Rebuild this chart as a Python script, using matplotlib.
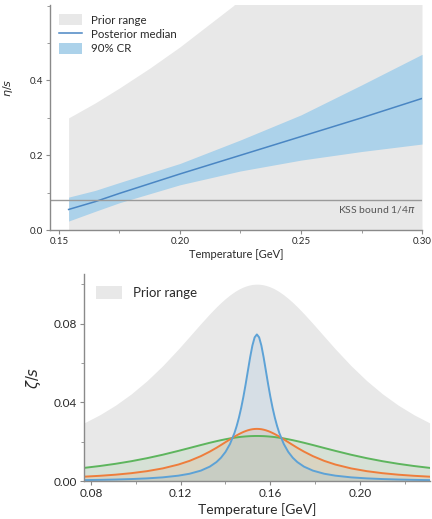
import numpy as np
import matplotlib

matplotlib.use("Agg")
import matplotlib.pyplot as plt
from matplotlib.patches import Patch
from matplotlib.lines import Line2D
from matplotlib.ticker import MultipleLocator

plt.rcParams["font.family"] = ["Lato", "DejaVu Sans"]

# --- eta/s panel ---
prior_T = [0.154, 0.165, 0.175, 0.1875, 0.200, 0.210, 0.222, 0.235, 0.300]
prior_hi = [0.300, 0.340, 0.380, 0.433, 0.490, 0.540, 0.600, 0.680, 1.050]

post_T = [0.154, 0.165, 0.175, 0.200, 0.225, 0.250, 0.275, 0.300]
post_med = [0.055, 0.076, 0.098, 0.150, 0.200, 0.250, 0.300, 0.352]
post_lo = [0.024, 0.050, 0.073, 0.121, 0.158, 0.187, 0.210, 0.230]
post_hi = [0.088, 0.106, 0.127, 0.178, 0.241, 0.308, 0.388, 0.470]

kss = 1 / (4 * np.pi)

# --- zeta/s panel ---
zeta_T = [0.077, 0.084, 0.091, 0.098, 0.105, 0.112, 0.119, 0.124, 0.129, 0.133,
          0.136, 0.138, 0.140, 0.142, 0.144, 0.145, 0.146, 0.147, 0.148, 0.149,
          0.150, 0.151, 0.152, 0.153, 0.154, 0.155, 0.156, 0.157, 0.158, 0.159,
          0.160, 0.161, 0.162, 0.163, 0.164, 0.166, 0.168, 0.170, 0.172, 0.175,
          0.179, 0.184, 0.189, 0.196, 0.203, 0.210, 0.217, 0.224, 0.231]
zeta_prior = [0.02966, 0.03378, 0.03864, 0.04436, 0.05101, 0.05863, 0.06711, 0.07353,
              0.08000, 0.08500, 0.08853, 0.09071, 0.09273, 0.09455, 0.09615, 0.09686,
              0.09750, 0.09808, 0.09858, 0.09901, 0.09936, 0.09964, 0.09984, 0.09996,
              0.10000, 0.09996, 0.09984, 0.09964, 0.09936, 0.09901, 0.09858, 0.09808,
              0.09750, 0.09686, 0.09615, 0.09455, 0.09273, 0.09071, 0.08853, 0.08500,
              0.08000, 0.07353, 0.06711, 0.05863, 0.05101, 0.04436, 0.03864, 0.03378,
              0.02966]
zeta_blue = [0.00061, 0.00074, 0.00091, 0.00115, 0.00149, 0.00201, 0.00287, 0.00385,
             0.00542, 0.00745, 0.00979, 0.01197, 0.01490, 0.01891, 0.02450, 0.02808,
             0.03231, 0.03725, 0.04295, 0.04933, 0.05616, 0.06294, 0.06888, 0.07301,
             0.07450, 0.07301, 0.06888, 0.06294, 0.05616, 0.04933, 0.04295, 0.03725,
             0.03231, 0.02808, 0.02450, 0.01891, 0.01490, 0.01197, 0.00979, 0.00745,
             0.00542, 0.00385, 0.00287, 0.00201, 0.00149, 0.00115, 0.00091, 0.00074,
             0.00061]
zeta_orange = [0.00236, 0.00280, 0.00337, 0.00413, 0.00515, 0.00655, 0.00851, 0.01038,
               0.01276, 0.01507, 0.01702, 0.01842, 0.01985, 0.02128, 0.02266, 0.02332,
               0.02394, 0.02451, 0.02504, 0.02549, 0.02588, 0.02619, 0.02642, 0.02655,
               0.02660, 0.02655, 0.02642, 0.02619, 0.02588, 0.02549, 0.02504, 0.02451,
               0.02394, 0.02332, 0.02266, 0.02128, 0.01985, 0.01842, 0.01702, 0.01507,
               0.01276, 0.01038, 0.00851, 0.00655, 0.00515, 0.00413, 0.00337, 0.00280,
               0.00236]
zeta_green = [0.00682, 0.00777, 0.00889, 0.01020, 0.01173, 0.01348, 0.01544, 0.01691,
              0.01840, 0.01955, 0.02036, 0.02086, 0.02133, 0.02175, 0.02212, 0.02228,
              0.02243, 0.02256, 0.02267, 0.02277, 0.02285, 0.02292, 0.02296, 0.02299,
              0.02300, 0.02299, 0.02296, 0.02292, 0.02285, 0.02277, 0.02267, 0.02256,
              0.02243, 0.02228, 0.02212, 0.02175, 0.02133, 0.02086, 0.02036, 0.01955,
              0.01840, 0.01691, 0.01544, 0.01348, 0.01173, 0.01020, 0.00889, 0.00777,
              0.00682]

GRAY = "#e8e8e8"
AXC = "#8a8a8a"
TXT = "#2a2a2a"


def style_axes(ax, fs):
    for s in ("top", "right"):
        ax.spines[s].set_visible(False)
    for s in ("left", "bottom"):
        ax.spines[s].set_color(AXC)
        ax.spines[s].set_linewidth(1.0)
    ax.tick_params(which="major", length=3, width=0.8, color=AXC,
                   labelsize=fs, labelcolor=TXT, pad=2)
    ax.tick_params(which="minor", length=2, width=0.6, color=AXC)


fig = plt.figure(figsize=(4.32, 5.19), dpi=100)

# top panel
ax1 = fig.add_axes([0.1157, 0.5568, 0.8612, 0.4336])
ax1.fill_between(prior_T, 0, prior_hi, color=GRAY, lw=0)
ax1.fill_between(post_T, post_lo, post_hi, color="#acd2ea", lw=0)
ax1.plot(post_T, post_med, color="#4a86c3", lw=1.1)
ax1.axhline(kss, color="#9a9a9a", lw=1.0)
ax1.text(0.2975, 0.0555, "KSS bound 1/4$\\pi$", ha="right", va="center",
         fontsize=7.5, color="#555555")
ax1.set_xlim(0.1463, 0.30)
ax1.set_ylim(0, 0.602)
ax1.set_xticks([0.15, 0.20, 0.25, 0.30])
ax1.set_xticklabels(["0.15", "0.20", "0.25", "0.30"])
ax1.set_yticks([0.0, 0.2, 0.4])
ax1.set_yticklabels(["0.0", "0.2", "0.4"])
ax1.xaxis.set_minor_locator(MultipleLocator(0.025))
ax1.yaxis.set_minor_locator(MultipleLocator(0.1))
style_axes(ax1, 7)
ax1.set_xlabel("Temperature [GeV]", fontsize=8, color=TXT, labelpad=2)
ax1.set_ylabel("$\\eta/s$", fontsize=8, color=TXT)
ax1.yaxis.set_label_coords(-0.095, 0.63)
handles = [Patch(color=GRAY, lw=0), Line2D([], [], color="#4a86c3", lw=1.1),
           Patch(color="#acd2ea", lw=0)]
ax1.legend(handles, ["Prior range", "Posterior median", "90% CR"],
           loc="upper left", bbox_to_anchor=(0.0, 1.0), frameon=False,
           fontsize=8.3, handlelength=2.0, handleheight=1.1,
           labelspacing=0.25, handletextpad=0.8, borderaxespad=0.4,
           labelcolor=TXT)

# bottom panel
ax2 = fig.add_axes([0.1944, 0.0726, 0.801, 0.3989])
ax2.fill_between(zeta_T, 0, zeta_prior, color=GRAY, lw=0)
curves = [(zeta_green, "#5db55d"), (zeta_orange, "#ee7d3b"), (zeta_blue, "#5da2d6")]
for vals, col in curves:
    ax2.fill_between(zeta_T, 0, vals, color=col, alpha=0.13, lw=0)
for vals, col in curves:
    ax2.plot(zeta_T, vals, color=col, lw=1.4)
ax2.set_xlim(0.0769, 0.2312)
ax2.set_ylim(0, 0.105)
ax2.set_xticks([0.08, 0.12, 0.16, 0.20])
ax2.set_xticklabels(["0.08", "0.12", "0.16", "0.20"])
ax2.set_yticks([0.0, 0.04, 0.08])
ax2.set_yticklabels(["0.00", "0.04", "0.08"])
ax2.xaxis.set_minor_locator(MultipleLocator(0.02))
ax2.yaxis.set_minor_locator(MultipleLocator(0.02))
style_axes(ax2, 8.5)
ax2.set_xlabel("Temperature [GeV]", fontsize=10, color=TXT, labelpad=3)
ax2.set_ylabel("$\\zeta/s$", fontsize=10.5, color=TXT, labelpad=8)
ax2.legend([Patch(color=GRAY, lw=0)], ["Prior range"], loc="upper left",
           frameon=False, fontsize=9.5, handlelength=2.0, handleheight=1.1,
           handletextpad=0.8, borderaxespad=0.5, labelcolor=TXT)

fig.savefig("out.png", dpi=100)
